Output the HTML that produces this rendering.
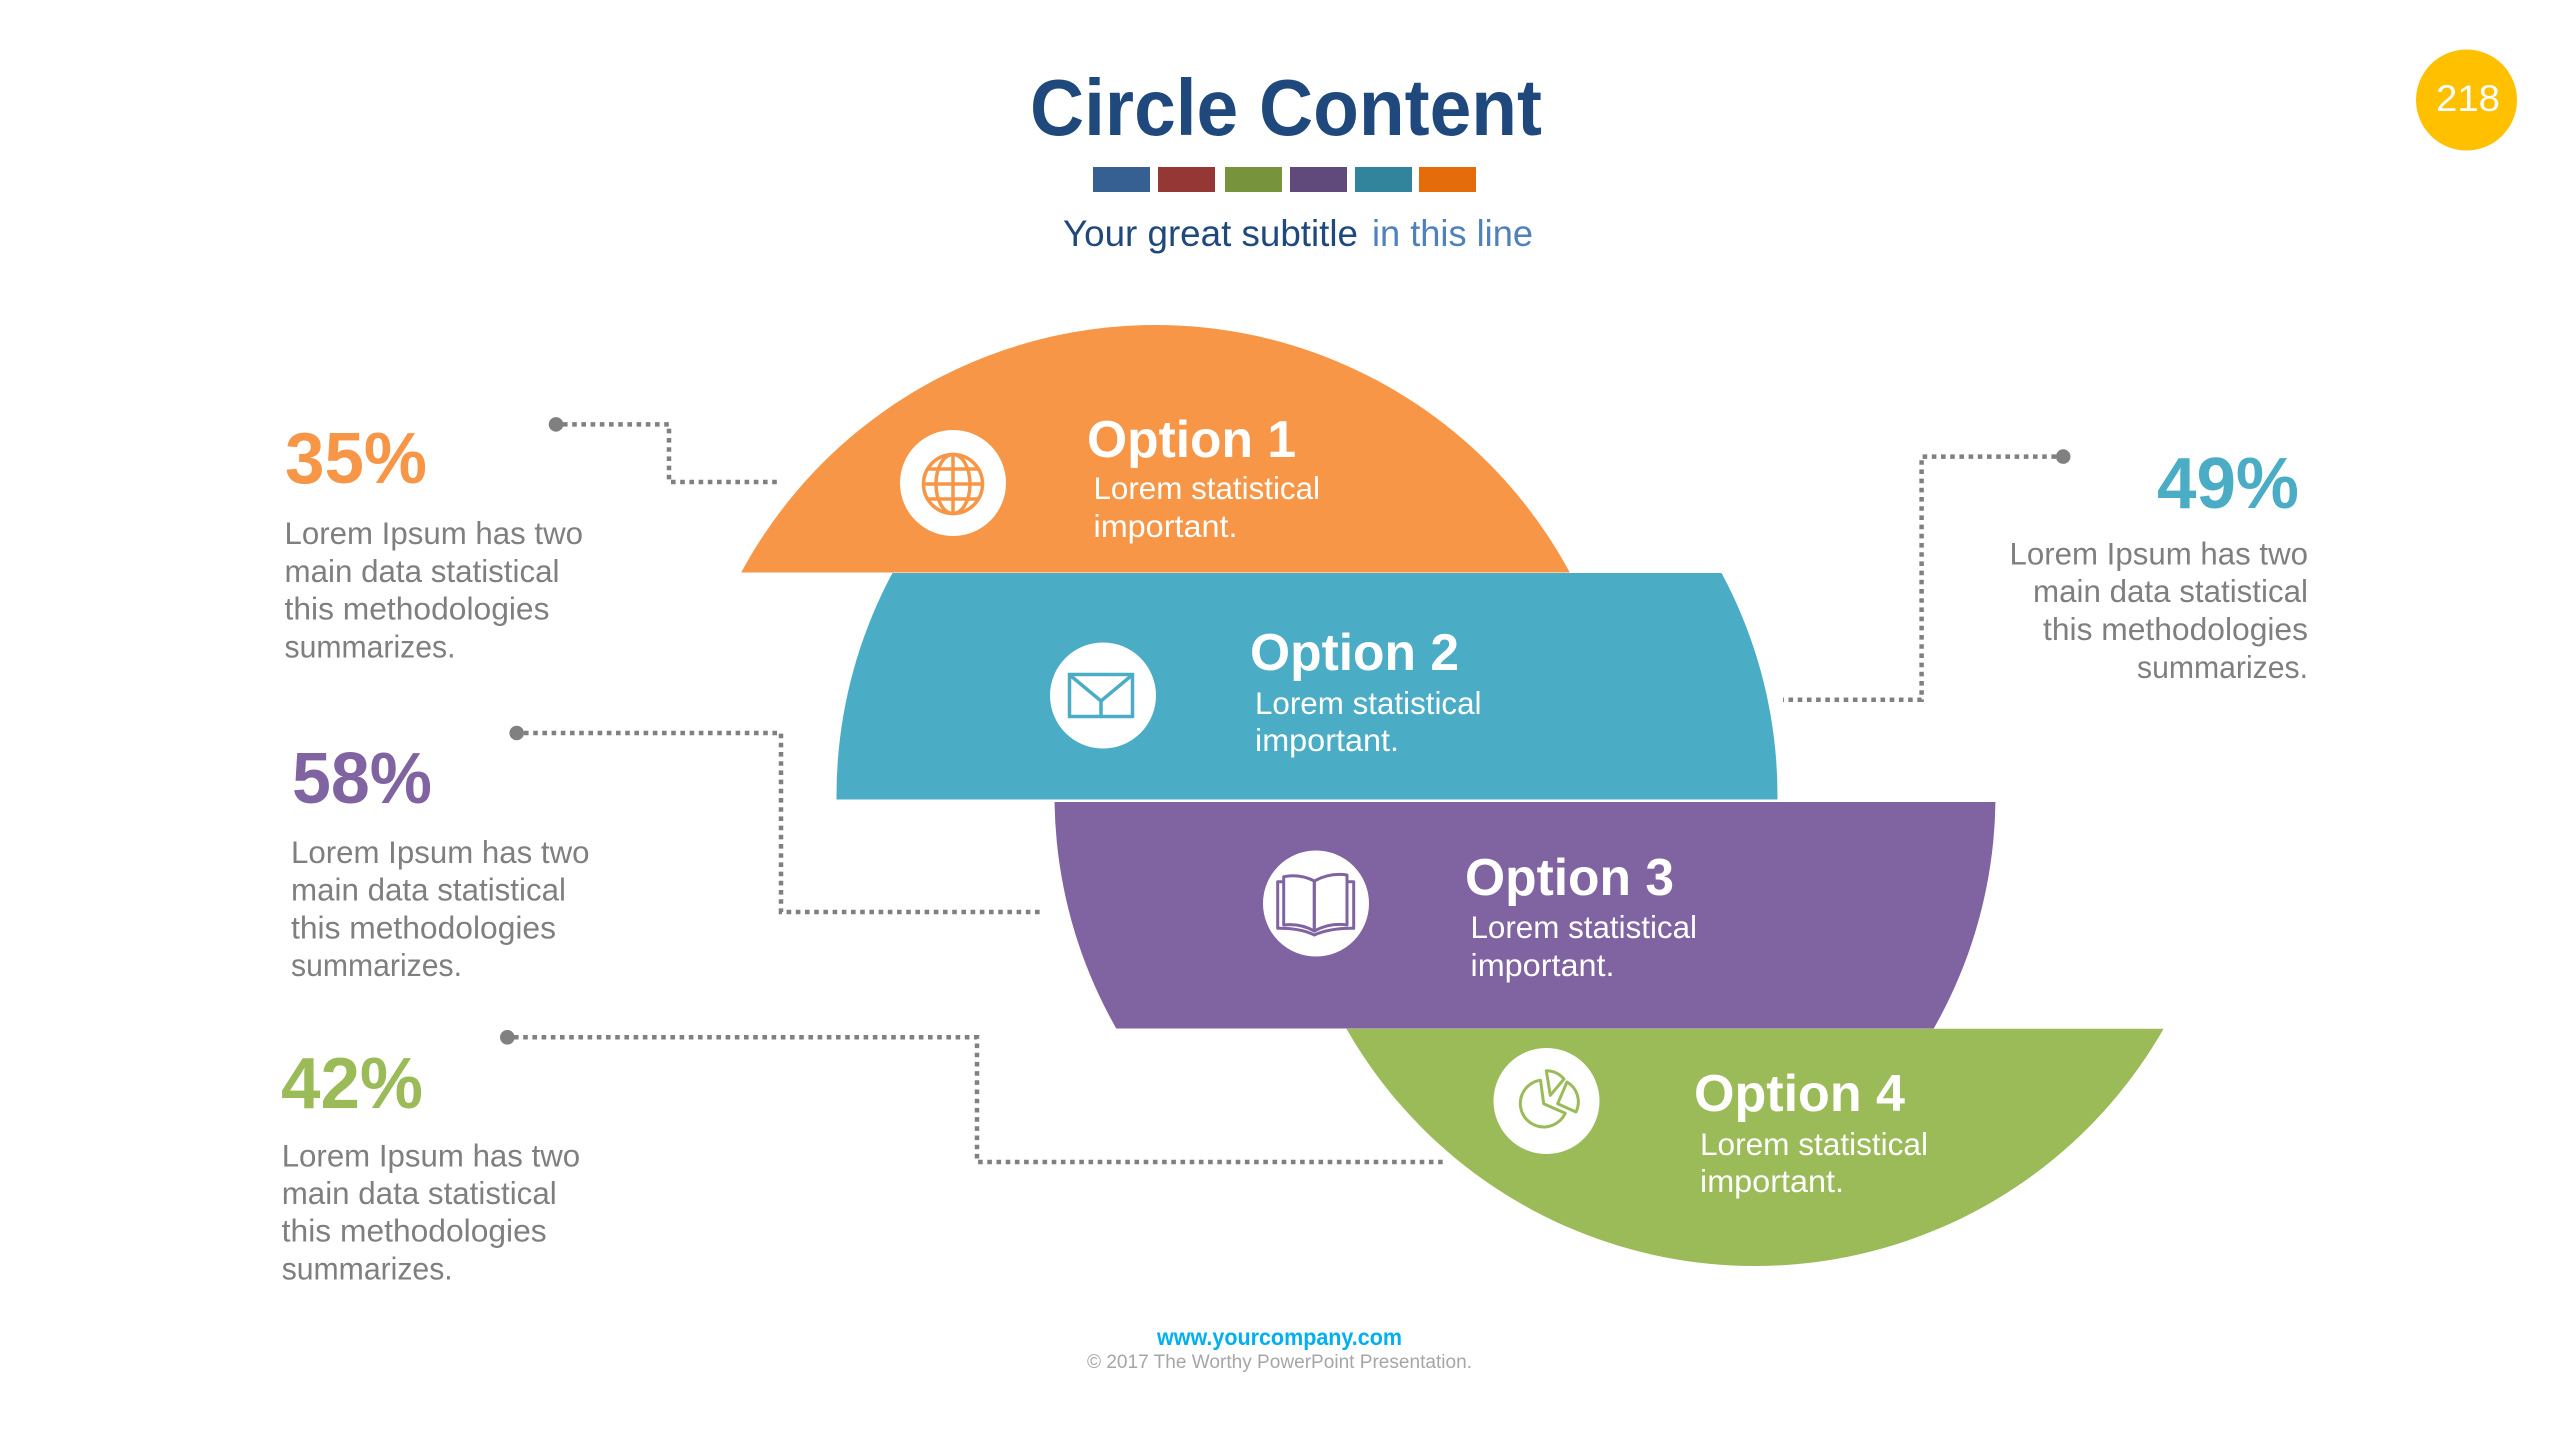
<!DOCTYPE html>
<html>
<head>
<meta charset="utf-8">
<style>
  html, body { margin: 0; padding: 0; background: #ffffff; }
  body { width: 2553px; height: 1440px; overflow: hidden; }
  svg { display: block; }
  text { font-family: "Liberation Sans", "DejaVu Sans", sans-serif; }
</style>
</head>
<body>
<svg width="2553" height="1440" viewBox="0 0 2553 1440" xmlns="http://www.w3.org/2000/svg">
  <defs>
    <clipPath id="cOrange"><rect x="0" y="324" width="2553" height="248.5"/></clipPath>
    <clipPath id="cBlue"><rect x="0" y="573" width="2553" height="226.5"/></clipPath>
    <clipPath id="cPurple"><rect x="0" y="802" width="2553" height="226.5"/></clipPath>
    <clipPath id="cGreen"><rect x="0" y="1028.8" width="2553" height="240"/></clipPath>
  </defs>

  <rect x="0" y="0" width="2553" height="1440" fill="#ffffff"/>

  <!-- Title -->
  <text x="1030" y="135" font-size="80" font-weight="bold" fill="#1F497D" textLength="512" lengthAdjust="spacingAndGlyphs">Circle Content</text>

  <!-- color squares -->
  <rect x="1093" y="167" width="57" height="25" fill="#376092"/>
  <rect x="1158" y="167" width="57" height="25" fill="#953735"/>
  <rect x="1225" y="167" width="57" height="25" fill="#77933C"/>
  <rect x="1290" y="167" width="57" height="25" fill="#604A7B"/>
  <rect x="1355" y="167" width="57" height="25" fill="#31849B"/>
  <rect x="1419" y="167" width="57" height="25" fill="#E46C0A"/>

  <!-- Subtitle -->
  <text x="1063" y="246" font-size="37" fill="#1F497D" textLength="295" lengthAdjust="spacingAndGlyphs">Your great subtitle</text>
  <text x="1372" y="246" font-size="37" fill="#4F81BD" textLength="161" lengthAdjust="spacingAndGlyphs">in this line</text>

  <!-- Badge -->
  <circle cx="2466.5" cy="100" r="50.5" fill="#FFC000"/>
  <text x="2436" y="111" font-size="37" fill="#ffffff" textLength="64" lengthAdjust="spacingAndGlyphs">218</text>

  <!-- Bands -->
  <circle cx="1155.5" cy="795.5" r="470.5" fill="#F79646" clip-path="url(#cOrange)"/>
  <circle cx="1307" cy="795.5" r="470.5" fill="#4BACC6" clip-path="url(#cBlue)"/>
  <circle cx="1525" cy="795.5" r="470.5" fill="#8064A2" clip-path="url(#cPurple)"/>
  <circle cx="1755" cy="795.5" r="470.5" fill="#9BBB59" clip-path="url(#cGreen)"/>

  <!-- Icon circles -->
  <circle cx="953" cy="483" r="53" fill="#ffffff"/>
  <circle cx="1103" cy="695.5" r="53" fill="#ffffff"/>
  <circle cx="1316" cy="903.5" r="53" fill="#ffffff"/>
  <circle cx="1546.5" cy="1101" r="53" fill="#ffffff"/>

  <!-- Globe icon -->
  <g fill="none" stroke="#F79646" stroke-width="3.5">
    <circle cx="953" cy="484" r="29.5"/>
    <ellipse cx="953" cy="484" rx="17" ry="29.5"/>
    <line x1="953" y1="454.5" x2="953" y2="513.5"/>
    <line x1="927" y1="469" x2="979" y2="469"/>
    <line x1="923.5" y1="484" x2="982.5" y2="484"/>
    <line x1="927" y1="499" x2="979" y2="499"/>
  </g>

  <!-- Envelope icon -->
  <g fill="none" stroke="#4BACC6" stroke-width="3.5">
    <rect x="1069.5" y="674.5" width="63" height="42"/>
    <polyline points="1071,676 1101,701 1131,676"/>
    <line x1="1101" y1="701" x2="1101" y2="716.5"/>
  </g>

  <!-- Book icon -->
  <g fill="none" stroke="#8064A2" stroke-width="3" stroke-linejoin="round">
    <path d="M1314.3,881 Q1300,873.5 1283.7,876.7 V925 Q1300,923 1314.3,931 Z"/>
    <path d="M1314.3,881 Q1330,872.5 1347,875 V925 Q1330,922.5 1314.3,931 Z"/>
    <path d="M1283.7,881.7 H1277.7 V928.3 Q1300,928 1314.3,935 Q1330,928 1353.7,928.3 V881.7 H1347"/>
  </g>

  <!-- Pie icon -->
  <g fill="none" stroke="#9BBB59" stroke-width="3" stroke-linejoin="round">
    <path d="M1543.7,1103.7 L1540.5,1080.2 A23.5 23.5 0 1 0 1565.2,1113.2 Z"/>
    <path d="M1550.3,1095.3 L1546.3,1070.8 A24 24 0 0 1 1564,1079 Z"/>
    <path d="M1557.7,1103.7 L1567,1082 A23 23 0 0 1 1576,1112 Z"/>
  </g>

  <!-- Option texts -->
  <g fill="#ffffff">
    <text x="1087" y="457" font-size="52" font-weight="bold" textLength="209" lengthAdjust="spacingAndGlyphs">Option 1</text>
    <text x="1093.5" y="499" font-size="31.5" textLength="226.5" lengthAdjust="spacingAndGlyphs">Lorem statistical</text>
    <text x="1093.5" y="537" font-size="31.5" textLength="144" lengthAdjust="spacingAndGlyphs">important.</text>

    <text x="1250" y="670" font-size="52" font-weight="bold" textLength="209" lengthAdjust="spacingAndGlyphs">Option 2</text>
    <text x="1255" y="714" font-size="31.5" textLength="226.5" lengthAdjust="spacingAndGlyphs">Lorem statistical</text>
    <text x="1255" y="751" font-size="31.5" textLength="144" lengthAdjust="spacingAndGlyphs">important.</text>

    <text x="1465" y="895" font-size="52" font-weight="bold" textLength="209" lengthAdjust="spacingAndGlyphs">Option 3</text>
    <text x="1470.5" y="938" font-size="31.5" textLength="226.5" lengthAdjust="spacingAndGlyphs">Lorem statistical</text>
    <text x="1470.5" y="976" font-size="31.5" textLength="144" lengthAdjust="spacingAndGlyphs">important.</text>

    <text x="1694" y="1111" font-size="52" font-weight="bold" textLength="211" lengthAdjust="spacingAndGlyphs">Option 4</text>
    <text x="1700" y="1155" font-size="31.5" textLength="228" lengthAdjust="spacingAndGlyphs">Lorem statistical</text>
    <text x="1700" y="1192" font-size="31.5" textLength="144" lengthAdjust="spacingAndGlyphs">important.</text>
  </g>

  <!-- Connectors -->
  <g fill="none" stroke="#808080" stroke-width="4.5" stroke-dasharray="4.6 4.6">
    <path d="M563,424.4 H669 V482 H780"/>
    <path d="M524,733 H781 V912 H1044"/>
    <path d="M514,1037.3 H977 V1162 H1447"/>
    <path d="M2056,456.6 H1921.6 V699.7 H1783"/>
  </g>
  <g fill="#808080">
    <circle cx="556" cy="424.4" r="7.3"/>
    <circle cx="516.7" cy="733" r="7.3"/>
    <circle cx="507.3" cy="1037.3" r="7.3"/>
    <circle cx="2063.2" cy="456.6" r="7.3"/>
  </g>

  <!-- Percent blocks -->
  <text x="285" y="483" font-size="72" font-weight="bold" fill="#F79646" textLength="142" lengthAdjust="spacingAndGlyphs">35%</text>
  <g font-size="31.5" fill="#7F7F7F">
    <text x="284.5" y="544" textLength="298.5" lengthAdjust="spacingAndGlyphs">Lorem Ipsum has two</text>
    <text x="284.5" y="582" textLength="275" lengthAdjust="spacingAndGlyphs">main data statistical</text>
    <text x="284.5" y="619.5" textLength="265" lengthAdjust="spacingAndGlyphs">this methodologies</text>
    <text x="284.5" y="657.5" textLength="171" lengthAdjust="spacingAndGlyphs">summarizes.</text>
  </g>

  <text x="292" y="803" font-size="72" font-weight="bold" fill="#8064A2" textLength="140" lengthAdjust="spacingAndGlyphs">58%</text>
  <g font-size="31.5" fill="#7F7F7F">
    <text x="291" y="863" textLength="298.5" lengthAdjust="spacingAndGlyphs">Lorem Ipsum has two</text>
    <text x="291" y="900.5" textLength="275" lengthAdjust="spacingAndGlyphs">main data statistical</text>
    <text x="291" y="938.5" textLength="265" lengthAdjust="spacingAndGlyphs">this methodologies</text>
    <text x="291" y="976" textLength="171" lengthAdjust="spacingAndGlyphs">summarizes.</text>
  </g>

  <text x="281" y="1108" font-size="72" font-weight="bold" fill="#9BBB59" textLength="142" lengthAdjust="spacingAndGlyphs">42%</text>
  <g font-size="31.5" fill="#7F7F7F">
    <text x="281.7" y="1166.7" textLength="298.5" lengthAdjust="spacingAndGlyphs">Lorem Ipsum has two</text>
    <text x="281.7" y="1204" textLength="275" lengthAdjust="spacingAndGlyphs">main data statistical</text>
    <text x="281.7" y="1241.7" textLength="265" lengthAdjust="spacingAndGlyphs">this methodologies</text>
    <text x="281.7" y="1279.3" textLength="171" lengthAdjust="spacingAndGlyphs">summarizes.</text>
  </g>

  <text x="2157" y="508" font-size="72" font-weight="bold" fill="#4BACC6" textLength="142" lengthAdjust="spacingAndGlyphs">49%</text>
  <g font-size="31.5" fill="#7F7F7F">
    <text x="2009.5" y="564.6" textLength="298.5" lengthAdjust="spacingAndGlyphs">Lorem Ipsum has two</text>
    <text x="2033" y="602" textLength="275" lengthAdjust="spacingAndGlyphs">main data statistical</text>
    <text x="2043" y="640" textLength="265" lengthAdjust="spacingAndGlyphs">this methodologies</text>
    <text x="2137" y="678" textLength="171" lengthAdjust="spacingAndGlyphs">summarizes.</text>
  </g>

  <!-- Footer -->
  <text x="1157" y="1345" font-size="23" font-weight="bold" fill="#00B0F0" textLength="245" lengthAdjust="spacingAndGlyphs">www.yourcompany.com</text>
  <text x="1087" y="1368" font-size="19" fill="#A6A6A6" textLength="385" lengthAdjust="spacingAndGlyphs">© 2017 The Worthy PowerPoint Presentation.</text>
</svg>
</body>
</html>
